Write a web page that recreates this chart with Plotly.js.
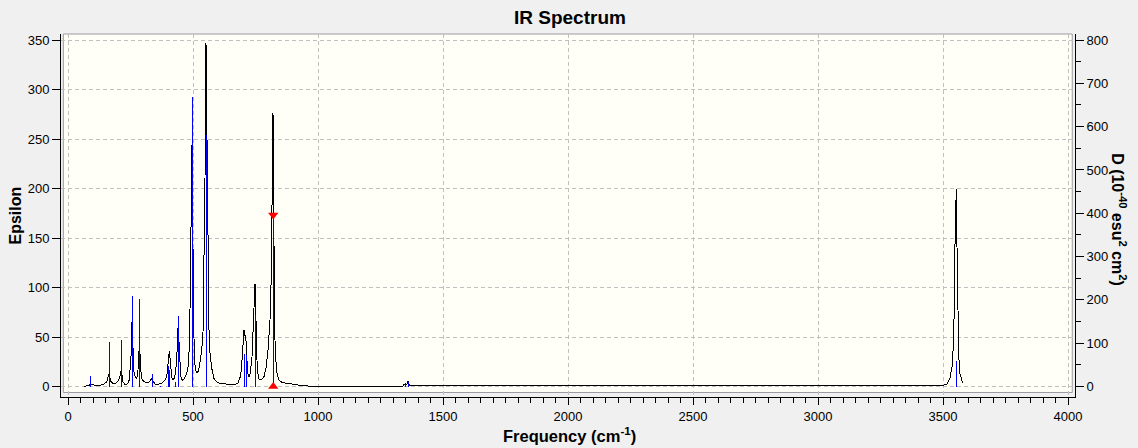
<!DOCTYPE html>
<html>
<head>
<meta charset="utf-8">
<script src="https://cdn.plot.ly/plotly-3.0.1.min.js"></script>
<style>
  html, body { margin: 0; padding: 0; background: #F0F0F0; }
  #chart { width: 1138px; height: 448px; }
  #chart .scatterlayer .js-line { shape-rendering: crispEdges; }
</style>
</head>
<body>
<div id="chart"></div>
<script>
// Broadened IR spectrum (frequency in cm-1, Epsilon)
const spectrumFreq = [64,85,91,101,115,128,144,155,160,163,167,169,175,184,195,204,208,212,215,220,228,239,245,249,252,254,257,259,264,269,275,280,283,285,288,291,296,304,315,325,333,337,341,349,361,375,388,395,399,403,405,408,411,415,419,424,429,435,439,441,444,447,451,457,465,475,483,488,492,495,497,500,503,505,511,516,523,528,535,540,544,548,552,556,560,564,568,575,584,595,608,628,648,667,680,691,697,701,704,707,711,715,719,724,729,736,741,745,748,751,753,757,764,773,784,793,800,808,813,817,820,823,825,829,836,844,856,873,893,913,940,960,1000,1339,1344,1352,1355,1361,1365,1380,2396,2400,3442,3488,3515,3528,3537,3541,3545,3548,3552,3553,3556,3559,3563,3568,3575,3578];
const spectrumEps = [0.2,1.2,2.5,1.5,0.5,1.2,2.5,4.8,8.5,12.5,11.5,6.5,3.9,2.9,3.9,7.3,10.7,16,13,4.9,2.2,2.6,6.7,18.4,30,55,70,45,15,9.3,8.3,16.7,35,40,33,16.7,7.3,4.9,3.9,4.6,7.3,8.3,4.9,2.5,2.4,3,6.3,10,20,32,35.5,29,17,10,6.3,8,13,26.6,57,60,45,23.6,10,6.3,8,13,23.6,77,185,230,264,141,57,26.6,16.5,13.3,16.5,23.6,37,54,118,209,346.6,266,131,57,33.5,18.3,8,4.8,3,2.4,2.4,1.9,3.5,11,30,47,57,52,52,30,13.4,10,13.4,30,67,97,104,77,37,16.7,7.3,6.7,10,20,37,67,111,218,276,198,87,33.5,13.4,6.7,4,3.4,2.4,1.7,0.8,0.5,0.3,0.3,2.2,2.5,1.9,5.9,1.5,1.2,0.9,0.3,0.6,0.8,2.1,8.6,21,40,77,143,171,199,141,60,30,13,6,4];

// Stick spectrum (frequency in cm-1, D in 10^-40 esu^2 cm^2)
const stickFreq = [91,165,213,257,285,337,371,400,406,430,441,497,552,705,713,749,821,1348,1361,3553];
const stickD    = [24,103,107,210,202,29,2,48,37,10,162,669,581,75,72,165,396,7,11,59];
const selectedStick = 16;

// Axes
const xTicks  = [0,500,1000,1500,2000,2500,3000,3500,4000];
const yTicks  = [0,50,100,150,200,250,300,350];
const y2Ticks = [0,100,200,300,400,500,600,700,800];

const sx = [], sy = [];
stickFreq.forEach((f, i) => { sx.push(f, f, null); sy.push(0, stickD[i], null); });

const FONT = 'Liberation Sans, Arial, sans-serif';

const traces = [
  { x: spectrumFreq, y: spectrumEps, type: 'scatter', mode: 'lines',
    line: { color: '#000000', width: 1 }, yaxis: 'y', hoverinfo: 'skip' },
  { x: sx, y: sy, type: 'scatter', mode: 'lines',
    line: { color: '#0000FF', width: 1 }, yaxis: 'y2', hoverinfo: 'skip' },
  { x: [stickFreq[selectedStick]], y: [stickD[selectedStick]], type: 'scatter', mode: 'markers',
    marker: { symbol: 'triangle-down', color: '#FF0000', size: 9, line: { width: 0 } },
    yaxis: 'y2', hoverinfo: 'skip' },
  { x: [stickFreq[selectedStick]], y: [0], type: 'scatter', mode: 'markers',
    marker: { symbol: 'triangle-up', color: '#FF0000', size: 9, line: { width: 0 } },
    yaxis: 'y2', hoverinfo: 'skip' }
];

const tickFont = { family: FONT, size: 13, color: '#000000' };
const gridCommon = { gridcolor: '#C0C0C0', griddash: '4px,3px', gridwidth: 1 };

const layout = {
  width: 1138, height: 448,
  margin: { l: 61, r: 63, t: 34, b: 51, pad: 0 },
  paper_bgcolor: '#F0F0F0',
  plot_bgcolor: '#F0F0F0',
  showlegend: false,
  xaxis: Object.assign({
    range: [-28, 4028], tickvals: xTicks, ticktext: xTicks.map(String),
    ticks: 'outside', ticklen: 7, tickcolor: '#000', tickwidth: 1,
    showline: true, linecolor: '#000', linewidth: 1,
    showgrid: true, zeroline: false, tickfont: tickFont,
    minor: { dtick: 50, tick0: 0, ticks: 'outside', ticklen: 5, tickcolor: '#000', showgrid: false }
  }, gridCommon),
  yaxis: Object.assign({
    range: [-10.6, 356.1], tickvals: yTicks, ticktext: yTicks.map(String),
    ticks: 'outside', ticklen: 8, tickcolor: '#000', tickwidth: 1,
    showline: true, linecolor: '#000', linewidth: 1,
    showgrid: true, zeroline: false, tickfont: tickFont
  }, gridCommon),
  yaxis2: {
    overlaying: 'y', side: 'right',
    range: [-24.2, 813.9], tickvals: y2Ticks, ticktext: y2Ticks.map(String),
    ticks: 'outside', ticklen: 8, tickcolor: '#000', tickwidth: 1,
    showline: true, linecolor: '#000', linewidth: 1,
    showgrid: false, zeroline: false, tickfont: tickFont,
    minor: { dtick: 50, tick0: 0, ticks: 'outside', ticklen: 5, tickcolor: '#000', showgrid: false }
  },
  shapes: [
    { type: 'rect', xref: 'paper', yref: 'paper', layer: 'below',
      x0: 0.0023, x1: 0.9973, y0: 0.0124, y1: 1.0,
      fillcolor: '#FFFFF7', line: { color: '#9A9AA2', width: 1 } }
  ],
  annotations: [
    { text: '<b>IR Spectrum</b>', xref: 'paper', yref: 'paper', x: 0.5015, y: 1, yshift: 17,
      xanchor: 'center', yanchor: 'middle', showarrow: false,
      font: { family: FONT, size: 19, color: '#000' } },
    { text: '<b>Frequency (cm<sup>-1</sup>)</b>', xref: 'paper', yref: 'paper', x: 0.5015, y: 0, yshift: -38,
      xanchor: 'center', yanchor: 'middle', showarrow: false,
      font: { family: FONT, size: 16.5, color: '#000' } },
    { text: '<b>Epsilon</b>', xref: 'paper', yref: 'paper', x: 0, xshift: -46, y: 0.50,
      xanchor: 'center', yanchor: 'middle', showarrow: false, textangle: -90,
      font: { family: FONT, size: 16, color: '#000' } },
    { text: '<b>D (10<sup>-40</sup> esu<sup>2</sup> cm<sup>2</sup>)</b>', xref: 'paper', yref: 'paper',
      x: 1, xshift: 44, y: 0.49,
      xanchor: 'center', yanchor: 'middle', showarrow: false, textangle: 90,
      font: { family: FONT, size: 16, color: '#000' } }
  ]
};

Plotly.newPlot('chart', traces, layout, { displayModeBar: false, staticPlot: true });
</script>
</body>
</html>
